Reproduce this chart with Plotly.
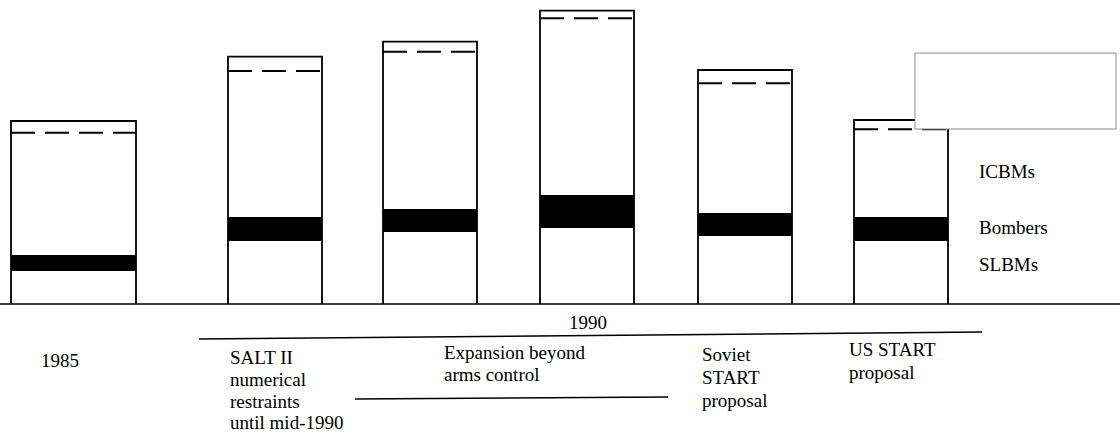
import plotly.graph_objects as go

# ---- data (warhead-style units) ----
scenarios = ["1985", "SALT II numerical restraints", "Expansion beyond arms control (a)",
             "Expansion beyond arms control (b)", "Soviet START proposal", "US START proposal"]
slbms = [2000, 3800, 4300, 4580, 4100, 3800]
bombers = [940, 1440, 1400, 1960, 1340, 1440]
icbms = [7340, 8740, 9440, 10600, 7800, 5240]
other = [700, 860, 600, 460, 800, 560]

series_labels = ["ICBMs", "Bombers", "SLBMs"]
year_labels = ["1985", "1990"]

# ---- layout constants (pixels) ----
W, H = 1120, 433
BASE_PX = 304
UNITS_PER_PX = 60
x_pos = [73.5, 275, 430, 587, 745, 901]
widths = [125, 94, 94, 94, 94, 94]
FONT = "Liberation Serif"
FS = 19


def py(p):
    """pixel y (from top) -> paper y"""
    return 1 - p / H


fig = go.Figure()
for vals, col in [(slbms, "white"), (bombers, "black"), (icbms, "white"), (other, "white")]:
    fig.add_trace(go.Bar(x=x_pos, y=vals, width=widths, marker=dict(color=col, line=dict(width=0)),
                         hoverinfo="skip", customdata=scenarios))

# outlines of each bar
ox, oy = [], []
dx, dy = [], []
for i in range(len(x_pos)):
    total = slbms[i] + bombers[i] + icbms[i] + other[i]
    l, r = x_pos[i] - widths[i] / 2, x_pos[i] + widths[i] / 2
    ox += [l, l, r, r, None]
    oy += [0, total, total, 0, None]
    d = slbms[i] + bombers[i] + icbms[i]
    dx += [l, r, None]
    dy += [d, d, None]
fig.add_trace(go.Scatter(x=ox, y=oy, mode="lines", line=dict(color="black", width=1.8),
                         hoverinfo="skip", cliponaxis=False))
fig.add_trace(go.Scatter(x=dx, y=dy, mode="lines", line=dict(color="black", width=2, dash="24px,10px"),
                         hoverinfo="skip", cliponaxis=False))

shapes = [
    dict(type="line", xref="paper", yref="y", x0=0, x1=1, y0=0, y1=0,
         line=dict(color="black", width=1.5)),
    dict(type="line", xref="x", yref="paper", x0=199, x1=982, y0=py(339), y1=py(332),
         line=dict(color="black", width=1.5)),
    dict(type="line", xref="x", yref="paper", x0=355, x1=668, y0=py(399), y1=py(397),
         line=dict(color="black", width=1.5)),
    dict(type="rect", xref="x", yref="paper", x0=915, x1=1116, y0=py(129), y1=py(53),
         fillcolor="white", line=dict(color="#8c8c8c", width=1), layer="above"),
]

ann = []


def txt(s, x, y, anchor="left"):
    ann.append(dict(text=s, x=x, y=py(y), xref="x", yref="paper", xanchor=anchor, yanchor="middle",
                    showarrow=False, font=dict(family=FONT, size=FS, color="black")))


txt(year_labels[0], 60, 360, "center")
txt(year_labels[1], 588, 322, "center")
for s, y in zip(["SALT II", "numerical", "restraints", "until mid-1990"], [357, 379, 401, 422]):
    txt(s, 228, y)
for s, y in zip(["Expansion beyond", "arms control"], [352, 374]):
    txt(s, 442, y)
for s, y in zip(["Soviet", "START", "proposal"], [354, 377, 400]):
    txt(s, 700, y)
for s, y in zip(["US START", "proposal"], [349, 372]):
    txt(s, 847, y)
for s, y in zip(series_labels, [172, 227, 264]):
    txt(s, 977, y)

fig.update_layout(
    width=W, height=H, margin=dict(l=0, r=0, t=0, b=0),
    paper_bgcolor="white", plot_bgcolor="white", showlegend=False,
    barmode="stack",
    xaxis=dict(range=[0, W], visible=False, fixedrange=True),
    yaxis=dict(range=[(BASE_PX - H) * UNITS_PER_PX, BASE_PX * UNITS_PER_PX], visible=False, fixedrange=True),
    shapes=shapes, annotations=ann,
)

fig.write_html("out.html", config={"displayModeBar": False},
               post_script="document.body.style.margin='0';document.body.style.overflow='hidden';")
